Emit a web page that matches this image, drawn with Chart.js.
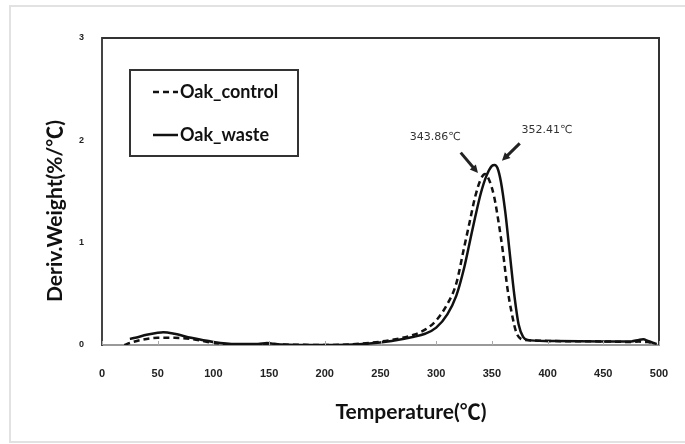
<!DOCTYPE html>
<html>
<head>
<meta charset="utf-8">
<script src="https://cdn.jsdelivr.net/npm/chart.js@4.4.1/dist/chart.umd.min.js"></script>
<style>
  body { margin: 0; background: #fff; }
  #wrap { position: relative; width: 685px; height: 444px; overflow: hidden; }
  #frame { position: absolute; left: 9px; top: 5px; width: 700px; height: 434px; border: 2px solid #e2e2e2; }
  #dtg_graph { position: absolute; left: 0; top: 0; }
</style>
</head>
<body>
<div id="wrap">
  <div id="frame"></div>
  <canvas id="dtg_graph" width="685" height="444"></canvas>
</div>
<script>
// Axis ticks
var xTicks = [0, 50, 100, 150, 200, 250, 300, 350, 400, 450, 500];
var yTicks = [0, 1, 2, 3];

// Oak_control (dashed) - temperature / deriv. weight
var controlTemp = [20, 25, 35, 50, 65, 80, 100, 120, 150, 200, 240, 260, 280, 290, 300, 310, 318, 325, 330, 335, 340, 343.86, 348, 352, 356, 360, 364, 368, 372, 376, 380, 400, 450, 475, 482, 486, 490, 495];
var controlDW = [0, 0.02, 0.05, 0.07, 0.07, 0.06, 0.02, 0.005, 0.005, 0, 0.02, 0.05, 0.1, 0.15, 0.24, 0.4, 0.6, 0.95, 1.2, 1.45, 1.62, 1.67, 1.6, 1.45, 1.2, 0.9, 0.55, 0.3, 0.12, 0.06, 0.05, 0.04, 0.035, 0.03, 0.035, 0.03, 0.03, 0.01];

// Oak_waste (solid)
var wasteTemp = [25, 30, 40, 50, 55, 65, 80, 100, 120, 140, 148, 152, 160, 200, 240, 260, 280, 290, 300, 310, 318, 325, 330, 335, 340, 345, 350, 352.41, 355, 358, 362, 366, 370, 374, 378, 382, 400, 450, 475, 482, 486, 490, 495, 498];
var wasteDW = [0.06, 0.07, 0.1, 0.12, 0.125, 0.11, 0.07, 0.03, 0.01, 0.01, 0.02, 0.015, 0.005, 0, 0.015, 0.04, 0.08, 0.11, 0.17, 0.3, 0.48, 0.75, 1.0, 1.25, 1.48, 1.65, 1.75, 1.76, 1.73, 1.6, 1.3, 0.9, 0.5, 0.2, 0.08, 0.05, 0.04, 0.035, 0.035, 0.05, 0.055, 0.04, 0.02, 0.01];

// Peak annotations: label, text position, arrow tail and tip (data units)
var peakLabels = ['343.86\u2103', '352.41\u2103'];
var peakTextT = [299, 399.5];
var peakTextV = [2.03, 2.10];
var arrowFromT = [322, 375];
var arrowFromV = [1.88, 1.97];
var arrowToT = [337.5, 359];
var arrowToV = [1.68, 1.80];

function toPoints(xs, ys) {
    return xs.map(function (x, i) { return { x: x, y: ys[i] }; });
}

var decorPlugin = {
    id: 'decor',
    afterDraw: function (chart) {
        var ctx = chart.ctx;
        var a = chart.chartArea;
        var xs = chart.scales.x, ys = chart.scales.y;
        ctx.save();

        // top & right frame
        ctx.strokeStyle = '#333';
        ctx.lineWidth = 2;
        ctx.beginPath();
        ctx.moveTo(a.left, a.top);
        ctx.lineTo(a.right, a.top);
        ctx.lineTo(a.right, a.bottom);
        ctx.stroke();

        // inside tick marks on x axis
        ctx.strokeStyle = '#aaa';
        ctx.lineWidth = 1;
        xTicks.forEach(function (t) {
            var px = Math.round(xs.getPixelForValue(t)) + 0.5;
            ctx.beginPath();
            ctx.moveTo(px, a.bottom);
            ctx.lineTo(px, a.bottom - 4);
            ctx.stroke();
        });

        // legend box
        ctx.strokeStyle = '#333';
        ctx.lineWidth = 2;
        ctx.strokeRect(130, 70, 168, 86);
        ctx.font = 'bold 18px Lato';
        ctx.fillStyle = '#111';
        ctx.textBaseline = 'middle';
        chart.data.datasets.forEach(function (ds, i) {
            var y = i === 0 ? 92 : 135;
            ctx.strokeStyle = '#111';
            ctx.lineWidth = 2.5;
            ctx.setLineDash(ds.borderDash || []);
            ctx.beginPath();
            ctx.moveTo(153, y);
            ctx.lineTo(178, y);
            ctx.stroke();
            ctx.setLineDash([]);
            ctx.fillText(ds.label, 180, y);
        });

        // peak annotations
        ctx.font = '11px "DejaVu Sans"';
        ctx.fillStyle = '#333';
        ctx.textAlign = 'center';
        peakLabels.forEach(function (lbl, i) {
            ctx.fillText(lbl, xs.getPixelForValue(peakTextT[i]), ys.getPixelForValue(peakTextV[i]));
            var x0 = xs.getPixelForValue(arrowFromT[i]), y0 = ys.getPixelForValue(arrowFromV[i]);
            var x1 = xs.getPixelForValue(arrowToT[i]), y1 = ys.getPixelForValue(arrowToV[i]);
            var ang = Math.atan2(y1 - y0, x1 - x0);
            ctx.strokeStyle = '#222';
            ctx.fillStyle = '#222';
            ctx.lineWidth = 3;
            ctx.beginPath();
            ctx.moveTo(x0, y0);
            ctx.lineTo(x1 - 5 * Math.cos(ang), y1 - 5 * Math.sin(ang));
            ctx.stroke();
            ctx.beginPath();
            ctx.moveTo(x1, y1);
            ctx.lineTo(x1 - 8 * Math.cos(ang) + 4 * Math.sin(ang), y1 - 8 * Math.sin(ang) - 4 * Math.cos(ang));
            ctx.lineTo(x1 - 8 * Math.cos(ang) - 4 * Math.sin(ang), y1 - 8 * Math.sin(ang) + 4 * Math.cos(ang));
            ctx.closePath();
            ctx.fill();
            ctx.fillStyle = '#333';
        });

        // axis titles
        ctx.fillStyle = '#111';
        ctx.font = 'bold 21px Lato, "Noto Sans CJK KR"';
        ctx.textAlign = 'center';
        ctx.fillText('Temperature(\u2103)', 411, 412);
        ctx.translate(55, 211);
        ctx.rotate(-Math.PI / 2);
        ctx.fillText('Deriv.Weight(%/\u2103)', 0, 0);
        ctx.restore();
    }
};

var canvas = document.getElementById('dtg_graph').getContext('2d');
var dtg_graph = new Chart(canvas, {
    type: 'line',
    data: {
        datasets: [{
            label: 'Oak_control',
            data: toPoints(controlTemp, controlDW),
            borderColor: '#111',
            borderWidth: 2.5,
            borderDash: [6, 4],
            pointRadius: 0,
            cubicInterpolationMode: 'monotone',
            fill: false
        },
        {
            label: 'Oak_waste',
            data: toPoints(wasteTemp, wasteDW),
            borderColor: '#111',
            borderWidth: 2.5,
            pointRadius: 0,
            cubicInterpolationMode: 'monotone',
            fill: false
        }]
    },
    options: {
        responsive: false,
        animation: false,
        layout: { padding: { top: 38, right: 26, left: 0, bottom: 0 } },
        plugins: { legend: { display: false }, tooltip: { enabled: false } },
        scales: {
            x: {
                type: 'linear',
                min: 0,
                max: 500,
                afterBuildTicks: function (s) { s.ticks = xTicks.map(function (v) { return { value: v }; }); },
                afterFit: function (s) { s.height = 99; },
                ticks: { font: { size: 11, weight: 'bold', family: 'Arial' }, color: '#222', padding: 14 },
                grid: { display: false },
                border: { color: '#999', width: 2 }
            },
            y: {
                min: 0,
                max: 3,
                afterBuildTicks: function (s) { s.ticks = yTicks.map(function (v) { return { value: v }; }); },
                afterFit: function (s) { s.width = 102; },
                ticks: { font: { size: 9, weight: 'bold', family: 'Arial' }, color: '#222', padding: 10 },
                grid: { display: false },
                border: { color: '#444', width: 2 }
            }
        }
    },
    plugins: [decorPlugin]
});
</script>
</body>
</html>
